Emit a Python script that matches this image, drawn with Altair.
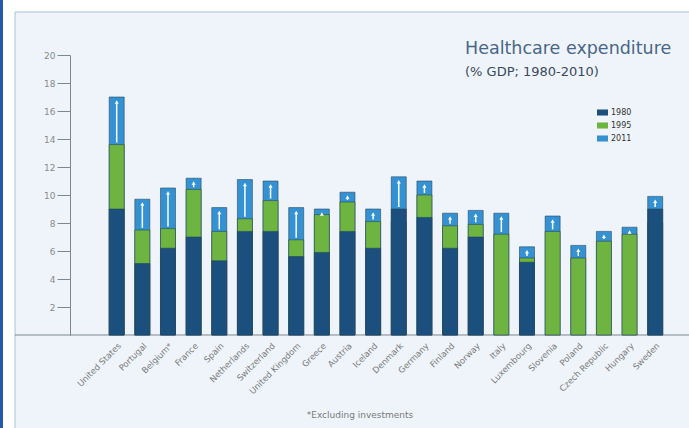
import altair as alt
import pandas as pd

countries = ["United States", "Portugal", "Belgium*", "France", "Spain", "Netherlands",
             "Switzerland", "United Kingdom", "Greece", "Austria", "Iceland", "Denmark",
             "Germany", "Finland", "Norway", "Italy", "Luxembourg", "Slovenia", "Poland",
             "Czech Republic", "Hungary", "Sweden"]
v1980 = [9.0, 5.1, 6.2, 7.0, 5.3, 7.4, 7.4, 5.6, 5.9, 7.4, 6.2, 9.0, 8.4, 6.2, 7.0,
         None, 5.2, None, None, None, None, 9.0]
v1995 = [13.6, 7.5, 7.6, 10.4, 7.4, 8.3, 9.6, 6.8, 8.6, 9.5, 8.1, 8.1, 10.0, 7.8, 7.9,
         7.2, 5.5, 7.4, 5.5, 6.7, 7.2, 8.0]
v2011 = [17.0, 9.7, 10.5, 11.2, 9.1, 11.1, 11.0, 9.1, 9.0, 10.2, 9.0, 11.3, 11.0, 8.7, 8.9,
         8.7, 6.3, 8.5, 6.4, 7.4, 7.7, 9.9]
years = ["1980", "1995", "2011"]
colors = ["#1b4f7d", "#6db540", "#3592d2"]
y_ticks = [2, 4, 6, 8, 10, 12, 14, 16, 18, 20]

# long table, drawn back-to-front: 2011 behind, then 1995, then 1980
rows = []
for yr, vals in (("2011", v2011), ("1995", v1995), ("1980", v1980)):
    for c, v in zip(countries, vals):
        if v is not None:
            rows.append({"country": c, "year": yr, "value": v})
bars_df = pd.DataFrame(rows)

arr = []
for c, a, b, t in zip(countries, v1980, v1995, v2011):
    base = max(a or 0, b)
    arr.append({"country": c, "lo": base + 0.15, "hi": t - 0.45, "head": t - 0.35})
arrows_df = pd.DataFrame(arr)
shaft_df = arrows_df[arrows_df["hi"] > arrows_df["lo"]]

one = pd.DataFrame({"k": [0]})

frame = alt.Chart(one).mark_rect(fill="#eef4f9", stroke="#a9c2d6", strokeWidth=1).encode(
    x=alt.value(-55), x2=alt.value(640), y=alt.value(-43), y2=alt.value(390))
stripe = alt.Chart(one).mark_rect(fill="#2459ab").encode(
    x=alt.value(-70), x2=alt.value(-67), y=alt.value(-60), y2=alt.value(390))
baseline = alt.Chart(one).mark_rule(color="#7d8790", strokeWidth=1).encode(
    x=alt.value(-55), x2=alt.value(625), y=alt.value(280))

xscale = alt.Scale(domain=countries, range=[39.2, 592.7], paddingInner=0.415, paddingOuter=0)
yscale = alt.Scale(domain=[0, 20], nice=False)

xaxis = alt.Axis(title=None, domain=False, ticks=False, labelAngle=-45,
                 labelFont="DejaVu Sans", labelFontSize=8.5, labelColor="#7a7a7a",
                 labelPadding=6, labelOverlap=False, zindex=1)
yaxis = alt.Axis(title=None, values=y_ticks, grid=False, domainColor="#7d8790",
                 tickColor="#7d8790", tickSize=13, labelPadding=2,
                 labelOverlap=False, labelFont="DejaVu Sans", labelFontSize=9,
                 labelColor="#8a8a8a", zindex=1)

bars = alt.Chart(bars_df).mark_bar(stroke="#23405e", strokeWidth=0.7, strokeOpacity=0.8).encode(
    x=alt.X("country:N", sort=countries, scale=xscale, axis=xaxis),
    y=alt.Y("value:Q", stack=None, scale=yscale, axis=yaxis),
    color=alt.Color("year:N", scale=alt.Scale(domain=years, range=colors),
                    legend=alt.Legend(title=None, orient="none", legendX=527, legendY=52,
                                      symbolType="M-1,-0.55H1V0.55H-1Z", symbolSize=121,
                                      symbolStrokeWidth=0, labelFont="DejaVu Sans",
                                      labelFontSize=8, labelColor="#333333", labelOffset=3,
                                      rowPadding=3)),
)

shafts = alt.Chart(shaft_df).mark_rule(color="white", strokeWidth=1.5).encode(
    x=alt.X("country:N", sort=countries, scale=xscale, axis=xaxis),
    y=alt.Y("lo:Q", scale=yscale, axis=yaxis), y2="hi:Q")
heads = alt.Chart(arrows_df).mark_point(shape="triangle-up", filled=True, color="white",
                                        size=16, opacity=1).encode(
    x=alt.X("country:N", sort=countries, scale=xscale, axis=xaxis),
    y=alt.Y("head:Q", scale=yscale, axis=yaxis))

title_t = alt.Chart(one).mark_text(text="Healthcare expenditure", font="DejaVu Sans",
                                   fontSize=17.5, color="#4a6688", align="left",
                                   baseline="alphabetic").encode(
    x=alt.value(395), y=alt.value(-1))
sub_t = alt.Chart(one).mark_text(text="(% GDP; 1980-2010)", font="DejaVu Sans",
                                 fontSize=13, color="#3a4a5e", align="left",
                                 baseline="alphabetic").encode(
    x=alt.value(395), y=alt.value(21))
foot_t = alt.Chart(one).mark_text(text="*Excluding investments", font="DejaVu Sans",
                                  fontSize=9, color="#7a7a7a", align="center",
                                  baseline="middle").encode(
    x=alt.value(290), y=alt.value(360))

chart = alt.layer(frame, stripe, baseline, bars, shafts, heads, title_t, sub_t, foot_t).properties(
    width=619, height=280,
    padding={"left": 70, "top": 55, "right": 0, "bottom": 93},
    autosize=alt.AutoSizeParams(type="none"),
    background="white",
).configure_view(stroke=None)

chart.save("out.html", embed_options={"renderer": "svg", "actions": False})
